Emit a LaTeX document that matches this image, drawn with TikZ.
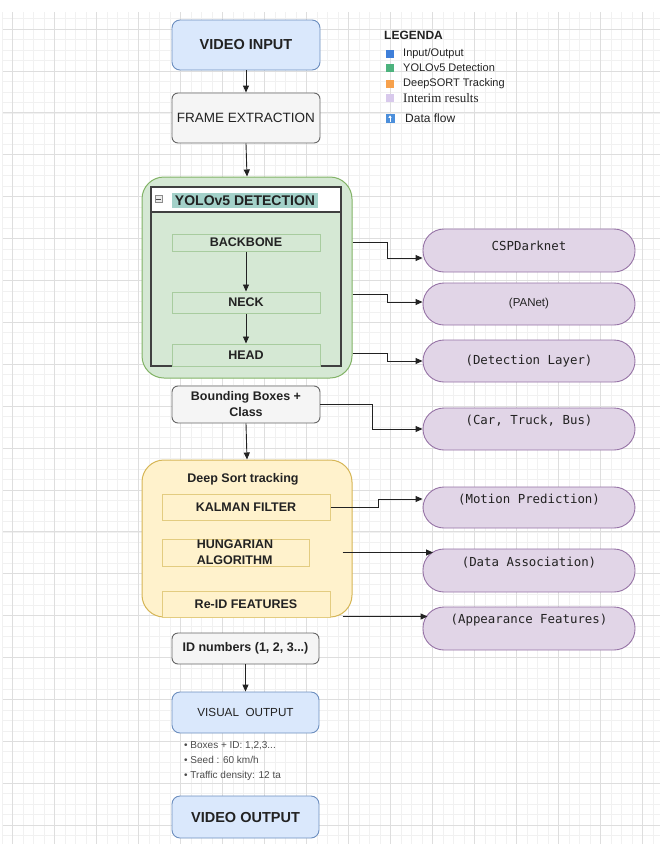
\documentclass[tikz,border=0pt]{standalone}
\usepackage{fontspec}
\setmainfont{Liberation Sans}
\newfontfamily\monof{DejaVu Sans Mono}
\newfontfamily\serifz{Liberation Serif}
\usetikzlibrary{arrows.meta,calc}
\definecolor{bluef}{HTML}{DAE8FC}\definecolor{bluel}{HTML}{6C8EBF}
\definecolor{greyf}{HTML}{F5F5F5}\definecolor{greyl}{HTML}{666666}
\definecolor{greenf}{HTML}{D5E8D4}\definecolor{greenl}{HTML}{82B366}
\definecolor{greeninner}{HTML}{A8CC9F}
\definecolor{yelf}{HTML}{FFF2CC}\definecolor{yell}{HTML}{D6B656}
\definecolor{yelinner}{HTML}{E3CC80}
\definecolor{purf}{HTML}{E1D5E7}\definecolor{purl}{HTML}{9673A6}
\definecolor{txt}{HTML}{222222}
\definecolor{hilite}{HTML}{A3D1C9}
\definecolor{gridmaj}{HTML}{DEDEDE}\definecolor{gridmin}{HTML}{F1F1F1}
\definecolor{legblue}{HTML}{3F7FD9}\definecolor{leggreen}{HTML}{4DB37E}
\definecolor{legorange}{HTML}{F7A14C}\definecolor{legpurple}{HTML}{D8C9EC}
\definecolor{legflow}{HTML}{4C8FDB}
\tikzset{
  fs/.style={font=\fontsize{#1}{#1}\selectfont},
  fsb/.style={font=\bfseries\fontsize{#1}{#1}\selectfont},
  fsm/.style={font=\monof\fontsize{#1}{#1}\selectfont},
  base/.style={draw, inner sep=0pt, align=center, text=txt, line width=0.9pt},
  bluebox/.style={base, fill=bluef, draw=bluel, rounded corners=8pt},
  greybox/.style={base, fill=greyf, draw=greyl, rounded corners=6pt},
  container/.style={base, rounded corners=22pt, line width=1pt},
  ginner/.style={base, fill=greenf, draw=greeninner, line width=1pt},
  yinner/.style={base, fill=yelf, draw=yelinner, line width=1pt},
  pill/.style={base, fill=purf, draw=purl, rounded corners=21pt, minimum width=212pt},
  pilltxt/.style={inner sep=0pt, text=txt, fsm=12.4},
  arr/.style={draw=txt, line width=0.9pt, -{Triangle[length=7pt,width=6pt]}},
  minorgrid/.style={draw=gridmin, line width=0.6pt},
  majorgrid/.style={draw=gridmaj, line width=0.8pt},
  legsq/.style={inner sep=0pt, minimum size=8pt},
  legtxt/.style={anchor=west, inner sep=0pt, text=txt, fs=11}
}
\begin{document}
\begin{tikzpicture}[x=1pt,y=-1pt]
\fill[white] (0,0) rectangle (660,844);
\useasboundingbox (0,0) rectangle (660,844);
% grid
\foreach \i in {-1,...,61} \draw[minorgrid] ({12.7+10.5*\i},12) -- ({12.7+10.5*\i},844);
\foreach \j in {-1,...,77} \draw[minorgrid] (3,{29+10.475*\j}) -- (660,{29+10.475*\j});
\foreach \i in {0,...,15} \draw[majorgrid] ({12.7+42*\i},12) -- ({12.7+42*\i},844);
\foreach \j in {0,...,19} \draw[majorgrid] (3,{29+41.9*\j}) -- (660,{29+41.9*\j});

% main column
\node[bluebox, minimum width=148pt, minimum height=50pt, fsb=14.5] (vin) at (246,45) {VIDEO INPUT};
\node[greybox, minimum width=148pt, minimum height=50pt, fs=13.5] (frame) at (246,118) {FRAME EXTRACTION};

% YOLO container
\node[container, fill=greenf, draw=greenl, minimum width=210pt, minimum height=201pt] (yolo) at (247,277.5) {};
\node[draw=black!75, line width=1.5pt, inner sep=0pt, minimum width=190pt, minimum height=179pt] (lane) at (246,276.5) {};
\node[draw=black!75, line width=1.5pt, fill=white, inner sep=0pt, minimum width=190pt, minimum height=25pt] (lanehead) at (246,199.5) {};
\node[fill=hilite, inner sep=0pt, minimum width=146pt, minimum height=15pt, text=txt, fsb=14] (ytitle) at (245,200.5) {YOLOv5 DETECTION};
\node[draw=black!45, fill=black!8, line width=0.6pt, inner sep=0pt, minimum size=7pt] (minus) at (158.5,199) {};
\draw[black!70, line width=0.8pt] ($(minus.west)+(1.5,0)$) -- ($(minus.east)+(-1.5,0)$);

\node[ginner, minimum width=148pt, minimum height=17pt, fsb=12.5] (bb) at (246,242.5) {BACKBONE};
\node[ginner, minimum width=148pt, minimum height=21pt, fsb=12.5] (neck) at (246,302.5) {NECK};
\node[ginner, minimum width=148pt, minimum height=22pt, fsb=12.5] (head) at (246,355) {HEAD};

\node[greybox, minimum width=148pt, minimum height=37pt, fsb=12.5] (bbox) at (246,404.5) {Bounding Boxes +\\[3.5pt]Class};

% DeepSort container
\node[container, fill=yelf, draw=yell, minimum width=210pt, minimum height=157pt] (ds) at (247,538.5) {};
\node[inner sep=0pt, text=txt, fsb=12.5] (dstitle) at (243,479) {Deep Sort tracking};
\node[yinner, minimum width=168pt, minimum height=26pt, fsb=12.5] (kalman) at (246,507) {KALMAN FILTER};
\node[yinner, minimum width=147pt, minimum height=27pt] (hung) at (235.5,552.5) {};
\node[inner sep=0pt, align=left, text=txt, fsb=12.5] (hungtxt) at (235,552) {HUNGARIAN\\[3.5pt]ALGORITHM};
\node[yinner, minimum width=168pt, minimum height=26pt, fsb=12.5] (reid) at (246,604) {Re-ID FEATURES};

\node[greybox, minimum width=147pt, minimum height=31pt, fsb=12.5] (idn) at (245.5,648.5) {ID numbers (1, 2, 3...)};
\node[bluebox, minimum width=147pt, minimum height=41pt, fs=11.7] (vis) at (245.5,712.5) {VISUAL\ \ OUTPUT};
\node[anchor=north west, inner sep=0pt, align=left, text=black!70, font=\fontsize{10}{15}\selectfont] (bul) at (184,741) {• Boxes + ID: 1,2,3...\\• Seed : 60 km/h\\• Traffic density: 12 ta};
\node[bluebox, minimum width=147pt, minimum height=42pt, fsb=14.5] (vout) at (245.5,817) {VIDEO OUTPUT};

% pills
\node[pill, minimum height=43pt] (csp) at (529,250.5) {};
\node[pilltxt] (csptxt) at (529,246) {CSPDarknet};
\node[pill, minimum height=42pt, fs=11.5] (panet) at (529,304) {(PANet)};
\node[pill, minimum height=42pt, fsm=12.4] (detl) at (529,361) {(Detection Layer)};
\node[pill, minimum height=42pt] (car) at (529,429) {};
\node[pilltxt] (cartxt) at (529,421) {(Car, Truck, Bus)};
\node[pill, minimum height=41pt] (motion) at (529,507.5) {};
\node[pilltxt] (motiontxt) at (529,500) {(Motion Prediction)};
\node[pill, minimum height=43pt] (data) at (529,570.5) {};
\node[pilltxt] (datatxt) at (529,562.5) {(Data Association)};
\node[pill, minimum height=43pt] (appear) at (529,628.5) {};
\node[pilltxt] (appeartxt) at (529,620) {(Appearance Features)};

% vertical arrows
\draw[arr] (vin.south) -- (frame.north);
\draw[arr] (frame.south) -- (yolo.north);
\draw[arr] (bb.south) -- (neck.north);
\draw[arr] (neck.south) -- (head.north);
\draw[arr] (bbox.south) -- (ds.north);
\draw[arr] (idn.south) -- (vis.north);

% side connectors
\draw[arr] (bb -| yolo.east) -- ++(35,0) |- ([yshift=-7.5pt]csp.west);
\draw[arr] ($(neck -| yolo.east)+(0,-8.5)$) -- ++(35,0) |- ([yshift=2pt]panet.west);
\draw[arr] ($(head -| yolo.east)+(0,-2)$) -- ++(35,0) |- (detl.west);
\draw[arr] (bbox.east) -- ++(52,0) |- (car.west);
\draw[arr] (kalman.east) -- ++(48,0) |- ([yshift=8.5pt]motion.west);
\draw[arr] ($(hung -| ds.east)+(-10,0)$) -- ($(hung -| data.west)+(10.5,0)$);
\draw[arr] ($(ds.south east)+(-10,-1)$) -- ($(ds.south east -| appear.west)+(5,-1)$);

% legend
\node[anchor=west, inner sep=0pt, text=txt, fsb=12] (legt) at (384,35) {LEGENDA};
\node[legsq, fill=legblue] (l1) at (390,54) {};
\node[legtxt] (l1t) at (403,54) {Input/Output};
\node[legsq, fill=leggreen] (l2) at (390,68) {};
\node[legtxt] (l2t) at (403,68) {YOLOv5 Detection};
\node[legsq, fill=legorange] (l3) at (390,84) {};
\node[legtxt] (l3t) at (403,84) {DeepSORT Tracking};
\node[legsq, fill=legpurple] (l4) at (390,98) {};
\node[legtxt, font=\serifz\fontsize{13}{13}\selectfont] (l4t) at (403,98) {Interim results};
\node[legsq, fill=legflow, minimum size=9pt] (l5) at (390,118.5) {};
\draw[white, line width=0.8pt, -{Triangle[length=2.5pt,width=3pt]}] ($(l5.south)+(0,-1.5)$) -- ($(l5.north)+(0,1.5)$);
\node[legtxt, fs=12] (l5t) at (405,118) {Data flow};
\end{tikzpicture}
\end{document}
